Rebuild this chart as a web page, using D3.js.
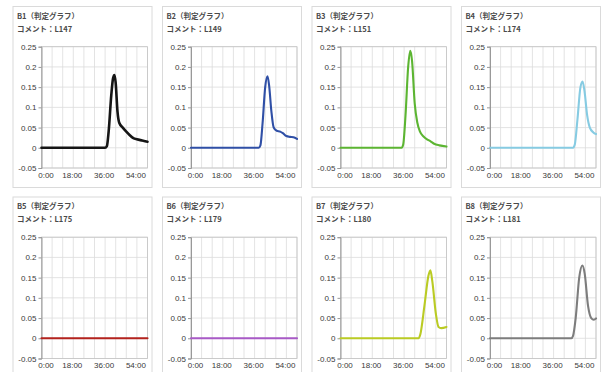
<!DOCTYPE html>
<html>
<head>
<meta charset="utf-8">
<script src="https://cdn.jsdelivr.net/npm/d3@7"></script>
<style>
  html, body { margin: 0; padding: 0; background: #fff; }
  svg { display: block; }
</style>
</head>
<body>
<svg class="grid" width="604" height="372"></svg>
<script>
// panel texts
const titles = ["B1（判定グラフ）", "B2（判定グラフ）", "B3（判定グラフ）", "B4（判定グラフ）",
                "B5（判定グラフ）", "B6（判定グラフ）", "B7（判定グラフ）", "B8（判定グラフ）"]
const comments = ["コメント：L147", "コメント：L149", "コメント：L151", "コメント：L174",
                  "コメント：L175", "コメント：L179", "コメント：L180", "コメント：L181"]
const colors = ["#151515", "#2f4fa6", "#5cb532", "#86cbe2", "#b3221d", "#a85ac6", "#bacb24", "#7d7d7d"]

// axis ticks
const xTicks = [0, 18, 36, 54]
const xTickLabels = ["0:00", "18:00", "36:00", "54:00"]
const yTicks = [-0.05, 0, 0.05, 0.1, 0.15, 0.2, 0.25]
const yTickLabels = ["-0.05", "0", "0.05", "0.1", "0.15", "0.2", "0.25"]

// series: [hour, value]
const b1 = [[0, 0], [36, 0], [37, 0.004], [38, 0.04], [39.5, 0.13], [40.5, 0.172], [41.3, 0.18], [42, 0.16],
            [43, 0.09], [44, 0.062], [46, 0.05], [48, 0.04], [50, 0.031], [52, 0.024], [54, 0.021], [57, 0.018], [60, 0.015]]
const b2 = [[0, 0], [38.3, 0], [39.3, 0.006], [40.5, 0.06], [42, 0.15], [43.3, 0.177], [44.2, 0.155], [45.5, 0.09],
            [46.8, 0.05], [48.5, 0.042], [50.5, 0.04], [52, 0.036], [54, 0.029], [56, 0.027], [58, 0.026], [60, 0.022]]
const b3 = [[0, 0], [34.6, 0], [35.5, 0.008], [36.8, 0.08], [38.3, 0.2], [39.5, 0.24], [40.5, 0.215], [42, 0.11],
            [43.5, 0.062], [45, 0.04], [47, 0.028], [49, 0.021], [51, 0.016], [53, 0.01], [56, 0.006], [60, 0.003]]
const b4 = [[0, 0], [47, 0], [48, 0.008], [49.5, 0.07], [51.2, 0.15], [52.4, 0.164], [53.5, 0.14], [55, 0.08],
            [56.5, 0.05], [58.5, 0.038], [60, 0.034]]
const b5 = [[0, 0], [60, 0]]
const b6 = [[0, 0], [60, 0]]
const b7 = [[0, 0], [44.2, 0], [45.2, 0.01], [47.5, 0.08], [49.8, 0.155], [50.9, 0.168], [52, 0.14], [54, 0.06],
            [55.5, 0.028], [57, 0.025], [60, 0.028]]
const b8 = [[0, 0], [46, 0], [47, 0.006], [48.5, 0.05], [50.5, 0.15], [52.3, 0.18], [53.6, 0.16], [55.5, 0.08],
            [57.3, 0.05], [58.8, 0.046], [60, 0.049]]
const series = [b1, b2, b3, b4, b5, b6, b7, b8]

const svg = d3.select(".grid")
const config = {
  left0: 12.5, stepX: 149.5, top0: 6, stepY: 190.5,
  panelW: 139, panelH: 181,
  plotL: 29, plotW: 106, plotT: 40.7, plotH: 121.3,
}

const x = d3.scaleLinear().domain([0, 60]).range([0, config.plotW])
const y = d3.scaleLinear().domain([-0.05, 0.25]).range([config.plotH, 0])

const line = d3.line()
  .x((d) => x(d[0]))
  .y((d) => y(d[1]))
  .curve(d3.curveMonotoneX)

const panel = svg.selectAll("g.panel")
  .data(series)
  .join("g")
  .attr("class", "panel")
  .attr("transform", (d, i) => `translate(${config.left0 + (i % 4) * config.stepX},${config.top0 + Math.floor(i / 4) * config.stepY})`)

panel.append("rect")
  .attr("x", 0.5).attr("y", 0.5)
  .attr("width", config.panelW).attr("height", config.panelH)
  .attr("fill", "#fff")
  .attr("stroke", "#dadada")

panel.append("text")
  .attr("x", 4.5).attr("y", 12.5)
  .attr("font-family", "'Noto Sans CJK JP', sans-serif")
  .attr("font-size", 7.5)
  .attr("font-weight", "bold")
  .attr("fill", "#4a4a4a")
  .text((d, i) => titles[i])

panel.append("text")
  .attr("x", 4.5).attr("y", 25.5)
  .attr("font-family", "'Noto Sans CJK JP', sans-serif")
  .attr("font-size", 7.5)
  .attr("font-weight", "bold")
  .attr("fill", "#4a4a4a")
  .text((d, i) => comments[i])

const plot = panel.append("g")
  .attr("transform", `translate(${config.plotL},${config.plotT})`)

// grid
plot.selectAll("line.vgrid")
  .data(d3.range(0, 61, 6))
  .join("line")
  .attr("class", "vgrid")
  .attr("x1", (d) => x(d)).attr("x2", (d) => x(d))
  .attr("y1", 0).attr("y2", config.plotH)
  .attr("stroke", "#dcdcdc")
  .attr("stroke-width", 0.8)

plot.selectAll("line.hgrid")
  .data(yTicks)
  .join("line")
  .attr("class", "hgrid")
  .attr("x1", 0).attr("x2", config.plotW)
  .attr("y1", (d) => y(d)).attr("y2", (d) => y(d))
  .attr("stroke", "#dcdcdc")
  .attr("stroke-width", 0.8)

plot.append("rect")
  .attr("width", config.plotW).attr("height", config.plotH)
  .attr("fill", "none")
  .attr("stroke", "#c4c4c4")
  .attr("stroke-width", 0.8)

// y axis
const yAxis = d3.axisLeft(y)
  .tickValues(yTicks)
  .tickFormat((d, i) => yTickLabels[i])
  .tickSize(3)
  .tickPadding(2)
plot.append("g")
  .call(yAxis)
  .call((g) => g.select(".domain").attr("stroke", "#999"))
  .call((g) => g.selectAll(".tick line").attr("stroke", "#999"))
  .call((g) => g.selectAll("text")
    .attr("font-family", "'Liberation Sans', Arial, sans-serif")
    .attr("font-size", 8)
    .attr("fill", "#3a3a3a"))

// x axis
const xAxis = d3.axisBottom(x)
  .tickValues(xTicks)
  .tickFormat((d, i) => xTickLabels[i])
  .tickSize(0)
  .tickPadding(4)
plot.append("g")
  .attr("transform", `translate(0,${config.plotH})`)
  .call(xAxis)
  .call((g) => g.select(".domain").remove())
  .call((g) => g.selectAll("text")
    .attr("font-family", "'Liberation Sans', Arial, sans-serif")
    .attr("font-size", 8)
    .attr("fill", "#3a3a3a")
    .attr("dx", (d, i) => i == 0 ? 4 : -1.5))

// series line
plot.append("path")
  .attr("d", (d) => line(d))
  .attr("fill", "none")
  .attr("stroke", (d, i) => colors[i])
  .attr("stroke-width", (d, i) => i == 0 ? 2.6 : 2.1)
  .attr("stroke-linejoin", "round")
  .attr("stroke-linecap", "round")
</script>
</body>
</html>
